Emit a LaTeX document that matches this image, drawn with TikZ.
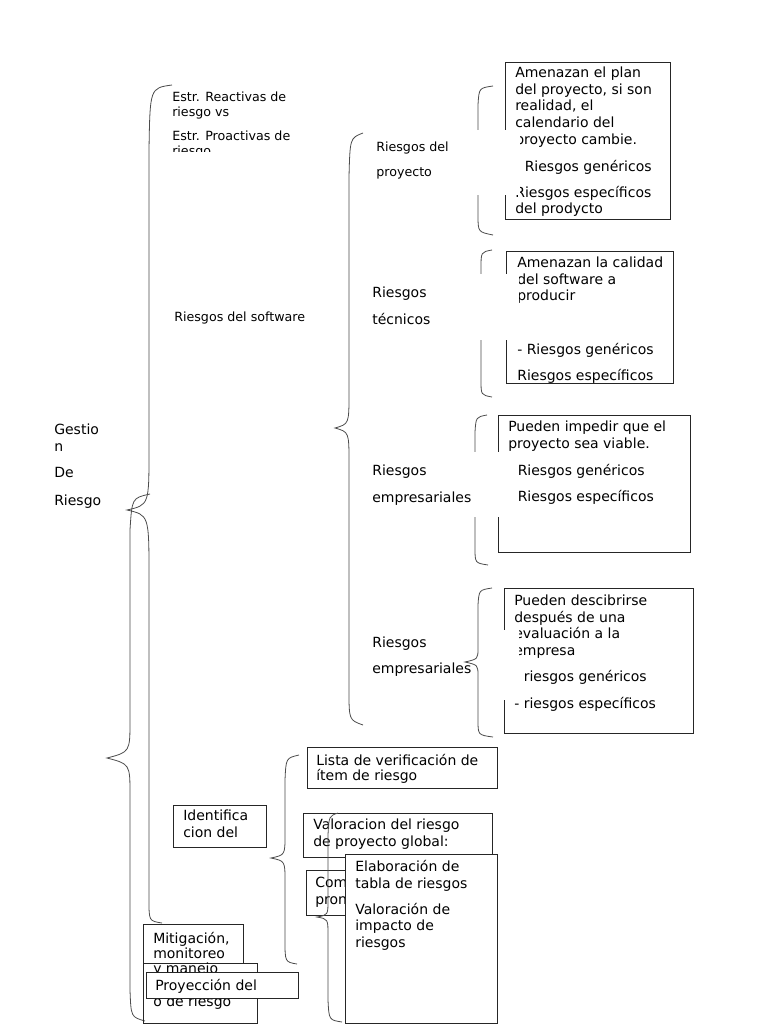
\documentclass[tikz,border=0pt]{standalone}
\usepackage{fontspec}
\setmainfont{DejaVu Sans}
\usetikzlibrary{positioning}

\begin{document}
\begin{tikzpicture}[x=0.75pt, y=-0.75pt,
  box/.style={draw=black!85, line width=0.6pt, rectangle, anchor=north west, inner sep=0pt},
  txt/.style={anchor=north west, align=left, inner sep=0pt, font=\fontsize{10.5}{12.4}\selectfont},
  smalltxt/.style={anchor=north west, align=left, inner sep=0pt, font=\fontsize{9.5}{11.2}\selectfont},
  brc/.style={draw=black!70, line width=0.6pt},
  mask/.style={fill=white}]
  \useasboundingbox[fill=white] (0,0) rectangle (768,1024);

  % Braces - drawn first
  \draw[brc] (172,85) .. controls (150,88) .. (149,150) -- (149,450) .. controls (149,505) .. (127,510) .. controls (149,515) .. (149,577) -- (149,900) .. controls (149,921) .. (162,923);
  \draw[brc] (150,494) .. controls (132,498) .. (130,530) -- (130,720) .. controls (130,752) .. (107,758) .. controls (130,764) .. (130,795) -- (130,990) .. controls (131,1017) .. (145,1021);
  \draw[brc] (363,133) .. controls (350,138) .. (349,177) -- (349,393) .. controls (349,424) .. (335,428) .. controls (349,432) .. (349,463) -- (349,690) .. controls (349,720) .. (363,725);
  \draw[brc] (493,86) .. controls (479,88) .. (478,105) -- (478,150) .. controls (478,160) .. (465,162) .. controls (478,164) .. (478,175) -- (478,215) .. controls (478,232) .. (493,235);
  \draw[brc] (492,250) .. controls (481,252) .. (481,268) -- (481,310) .. controls (481,322) .. (468,324) .. controls (481,326) .. (481,338) -- (481,380) .. controls (481,395) .. (492,397);
  \draw[brc] (487,415) .. controls (476,417) .. (475,432) -- (475,475) .. controls (475,486) .. (463,488) .. controls (475,490) .. (475,502) -- (475,548) .. controls (475,563) .. (488,565);
  \draw[brc] (492,588) .. controls (479,590) .. (478,605) -- (478,648) .. controls (478,659) .. (465,662) .. controls (478,665) .. (478,676) -- (478,720) .. controls (478,735) .. (493,737);
  \draw[brc] (299,755) .. controls (286,758) .. (285,780) -- (285,835) .. controls (285,855) .. (271,858) .. controls (285,861) .. (285,881) -- (285,940) .. controls (285,962) .. (297,964);

  % Boxes of the software risks
  \node[box, minimum width=165*0.75pt, minimum height=157*0.75pt] (plan) at (505,62) {};
  \node[txt] (plantxt) at (515,67) {Amenazan el plan\\del proyecto, si son\\realidad, el\\calendario del\\proyecto cambie.\\[7.9pt]- Riesgos genéricos\\[7.1pt]Riesgos específicos\\del prodycto};

  \node[box, minimum width=167*0.75pt, minimum height=132*0.75pt] (calidad) at (506,251) {};
  \node[txt] (calidadtxt) at (517,257) {Amenazan la calidad\\del software a\\producir\\[28pt]- Riesgos genéricos\\[7pt]Riesgos específicos};

  \node[box, minimum width=192*0.75pt, minimum height=137*0.75pt] (viable) at (498,415) {};
  \node[txt] (viabletxt) at (508,421) {Pueden impedir que el\\proyecto sea viable.\\[7.9pt]- Riesgos genéricos\\[7.1pt]- Riesgos específicos};

  \node[box, minimum width=189*0.75pt, minimum height=145*0.75pt] (empresa) at (504,588) {};
  \node[txt] (empresatxt) at (514,595) {Pueden descibrirse\\después de una\\evaluación a la\\empresa\\[7.1pt]- riesgos genéricos\\[7.9pt]- riesgos específicos};

  % White frames lying over braces and boxes
  \fill[mask] (455,130) rectangle (519.5,195);
  \fill[mask] (455,274) rectangle (519,340);
  \fill[mask] (455,452) rectangle (518,517);
  \fill[mask] (483,630) rectangle (518.5,700);

  % Labels
  \node[txt] (gestion) at (54,424) {Gestio\\n\\[7.1pt]De\\[8.6pt]Riesgo};
  \node[smalltxt] (estr) at (172,92) {Estr. Reactivas de\\riesgo vs\\[6.8pt]Estr. Proactivas de\\riesgo};
  \fill[mask] (165,152) rectangle (300,166);
  \node[smalltxt] (software) at (174,312) {Riesgos del software};
  \node[smalltxt] (proyecto) at (376,142) {Riesgos del\\[7.5pt]proyecto};
  \node[txt] (tecnicos) at (372,287) {Riesgos\\[7.9pt]técnicos};
  \node[txt] (empres1) at (372,465) {Riesgos\\[7.9pt]empresariales};
  \node[txt] (empres2) at (372,637) {Riesgos\\[7.1pt]empresariales};

  % Identification part
  \node[box, minimum width=190*0.75pt, minimum height=41*0.75pt] (lista) at (307,747) {};
  \node[txt] (listatxt) at (316,754) {Lista de verificación de\\[-1.1pt]ítem de riesgo};
  \node[box, minimum width=93*0.75pt, minimum height=42*0.75pt] (ident) at (173,805) {};
  \node[txt] (identtxt) at (183,810) {Identifica\\cion del};
  \node[box, minimum width=189*0.75pt, minimum height=44*0.75pt] (valor) at (303,813) {};
  \node[txt] (valortxt) at (313,819) {Valoracion del riesgo\\de proyecto global:};
  \node[box, minimum width=94*0.75pt, minimum height=45*0.75pt] (com) at (306,870) {};
  \node[txt] (comtxt) at (315,877) {Com\\pron};

  \draw[brc] (338,813) .. controls (329,816) .. (328,835) -- (328,900) .. controls (328,915) .. (317,917) .. controls (328,919) .. (328,935) -- (328,1000) .. controls (329,1020) .. (342,1022);

  \node[box, fill=white, minimum width=152*0.75pt, minimum height=169*0.75pt] (tabla) at (345,854) {};
  \node[txt] (tablatxt) at (355,860) {Elaboración de\\tabla de riesgos\\[7.1pt]Valoración de\\impacto de\\riesgos};

  % Mitigation and projection
  \node[box, minimum width=114*0.75pt, minimum height=60*0.75pt] (impacto) at (143,963) {};
  \node[txt] (impactotxt) at (153,996) {o de riesgo};
  \node[box, minimum width=100*0.75pt, minimum height=39*0.75pt] (mitig) at (143,924) {};
  \node[txt] (mitigtxt) at (153,932) {Mitigación,\\[-1.1pt]monitoreo\\[-1.1pt]y manejo};
  \node[box, fill=white, minimum width=152*0.75pt, minimum height=26*0.75pt] (proy) at (146,972) {};
  \node[txt] (proytxt) at (155,979) {Proyección del};
\end{tikzpicture}
\end{document}
